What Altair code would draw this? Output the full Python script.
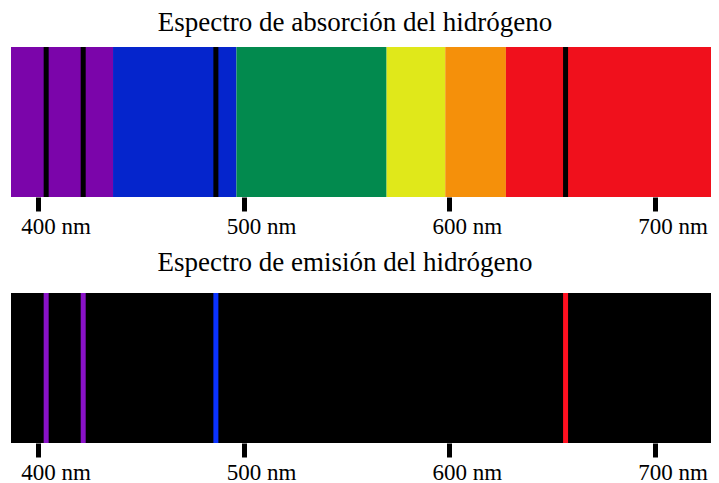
import altair as alt
import pandas as pd

# Data (wavelength positions in nm on the drawn axis)
band_start = [386.9, 436.5, 496.5, 569.5, 598.0, 627.5]
band_end = [436.5, 496.5, 569.5, 598.0, 627.5, 727.2]
band_colors = ["#7B05AA", "#0525CC", "#028A4E", "#E0E81A", "#F5900A", "#F0101C"]

line_nm = [404.0, 422.0, 486.5, 656.5]
emission_colors = ["#8A12C8", "#8A12C8", "#0A32FF", "#FF1020"]

tick_values = [400, 500, 600, 700]
tick_labels = ["400 nm", "500 nm", "600 nm", "700 nm"]
x_domain = [386.9, 727.2]

titles = ["Espectro de absorción del hidrógeno", "Espectro de emisión del hidrógeno"]

bands = pd.DataFrame({"start": band_start, "end": band_end, "color": band_colors})
lines = pd.DataFrame({"nm": line_nm, "color": emission_colors})
frame = pd.DataFrame({"start": [x_domain[0]], "end": [x_domain[1]]})
ticks = pd.DataFrame({"nm": tick_values, "label": tick_labels})

W, H = 700, 150
SERIF = "Liberation Serif"

axis = alt.Axis(
    values=tick_values,
    labels=False,
    grid=False,
    domain=False,
    ticks=True,
    tickColor="black",
    tickWidth=5,
    tickSize=14,
)
xscale = alt.Scale(domain=x_domain, nice=False, zero=False)


def tick_text():
    return alt.Chart(ticks).mark_text(
        font=SERIF, fontSize=23, color="black", align="center",
        baseline="alphabetic", dx=18,
    ).encode(
        x=alt.X("nm:Q", scale=xscale, axis=axis, title=None),
        y=alt.value(H + 37),
        text="label:N",
    )


# Absorption panel
abs_bands = alt.Chart(bands).mark_rect().encode(
    x=alt.X("start:Q", scale=xscale, axis=axis, title=None),
    x2="end:Q",
    color=alt.Color("color:N", scale=None),
)
abs_lines = alt.Chart(lines).mark_rule(color="black", strokeWidth=5).encode(
    x=alt.X("nm:Q", scale=xscale, axis=axis, title=None),
)
top = alt.layer(abs_bands, abs_lines, tick_text()).properties(
    width=W,
    height=H,
    title=alt.TitleParams(
        titles[0], font=SERIF, fontSize=27, fontWeight="normal",
        color="black", anchor="middle", offset=2, dx=-6, dy=-6,
    ),
)

# Emission panel
em_bg = alt.Chart(frame).mark_rect(color="black").encode(
    x=alt.X("start:Q", scale=xscale, axis=axis, title=None),
    x2="end:Q",
)
em_lines = alt.Chart(lines).mark_rule(strokeWidth=5).encode(
    x=alt.X("nm:Q", scale=xscale, axis=axis, title=None),
    color=alt.Color("color:N", scale=None),
)
bottom = alt.layer(em_bg, em_lines, tick_text()).properties(
    width=W,
    height=H,
    title=alt.TitleParams(
        titles[1], font=SERIF, fontSize=27, fontWeight="normal",
        color="black", anchor="middle", offset=14, dx=-16,
    ),
)

chart = (
    alt.vconcat(top, bottom, spacing=9)
    .properties(padding={"left": 3, "top": 0, "right": 0, "bottom": 0})
    .configure(background="white", font=SERIF)
    .configure_view(strokeWidth=0)
)

chart.save("out.html", embed_options={"renderer": "svg", "actions": False})
